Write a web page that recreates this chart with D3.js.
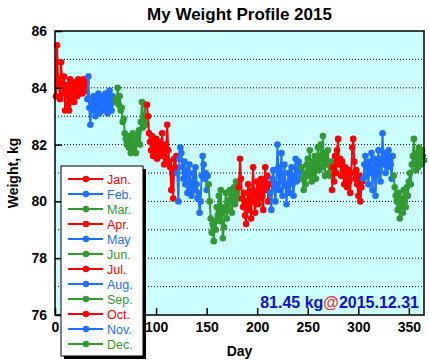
<!DOCTYPE html>
<html>
<head>
<meta charset="utf-8">
<script src="https://cdn.jsdelivr.net/npm/d3@7"></script>
<style>
  body { margin: 0; background: #fff; }
  svg { display: block; font-family: "Liberation Sans", Arial, sans-serif; }
</style>
</head>
<body>
<svg id="chart"></svg>
<script>
// Daily weights (kg), one array per month
const jan = [83.7, 85.5, 84.3, 84.1, 83.6, 84.9, 84.2, 83.8, 84.4, 83.2, 83.9, 84.1, 83.4, 83.2, 84.3, 83.6,
  83.9, 84.2, 83.5, 84.0, 84.1, 83.7, 84.3, 83.9, 84.2, 84.0, 83.8, 84.3, 84.1, 83.9, 84.2];
const feb = [83.6, 84.4, 83.3, 82.7, 83.5, 83.2, 83.7, 83.4, 83.0, 83.6, 83.3, 83.8, 83.1, 83.5, 83.7, 83.2,
  83.6, 83.4, 83.8, 83.3, 83.1, 83.6, 83.9, 83.4, 83.2, 83.7, 83.5, 83.6];
const mar = [83.6, 83.5, 84.0, 83.4, 83.7, 83.2, 83.3, 82.8, 82.9, 82.4, 82.2, 82.0, 82.3, 81.9, 82.1, 81.7,
  82.2, 82.4, 81.8, 82.0, 81.7, 82.3, 82.1, 82.5, 82.0, 82.8, 83.5, 82.6, 82.9, 83.4, 82.7];
const apr = [83.4, 83.0, 82.4, 82.1, 81.8, 82.3, 81.6, 82.0, 81.7, 82.2, 81.5, 81.9, 82.1, 81.6, 81.8, 82.4,
  81.7, 81.3, 82.0, 81.5, 82.7, 81.8, 81.4, 81.2, 80.4, 81.0, 80.1, 81.5, 81.2, 81.6];
const may = [81.0, 80.0, 81.5, 81.9, 81.7, 81.2, 80.8, 81.4, 80.6, 81.1, 80.3, 80.9, 81.3, 80.5, 80.2, 80.7,
  81.0, 80.4, 81.2, 80.6, 80.1, 80.3, 79.6, 80.0, 80.9, 81.6, 81.3, 80.8, 81.0, 80.4, 80.9];
const jun = [80.6, 80.0, 79.4, 78.9, 79.2, 78.6, 79.3, 79.0, 79.8, 79.5, 80.2, 79.3, 80.4, 79.6, 78.7, 79.1,
  79.8, 80.3, 79.4, 80.0, 79.7, 80.4, 80.1, 79.6, 80.2, 80.5, 79.9, 80.7, 80.3, 80.1];
const jul = [80.5, 81.5, 80.8, 80.1, 79.8, 80.3, 79.5, 79.2, 80.0, 80.6, 79.7, 80.2, 79.4, 80.4, 81.2, 80.0,
  79.6, 80.3, 80.7, 79.9, 80.5, 80.1, 80.8, 80.2, 79.7, 80.6, 81.2, 80.4, 80.9, 80.0, 80.6];
const aug = [80.3, 79.7, 80.8, 81.1, 80.5, 80.0, 80.6, 82.0, 81.2, 80.4, 80.9, 81.7, 80.2, 80.7, 81.3, 80.6,
  79.9, 80.5, 81.0, 80.3, 80.8, 81.2, 80.6, 80.2, 80.9, 81.5, 80.7, 81.1, 81.4, 80.8, 81.2];
const sep = [81.2, 80.8, 80.4, 81.0, 80.6, 81.3, 81.5, 80.9, 81.8, 81.2, 80.7, 81.4, 81.0, 81.6, 80.8, 81.3,
  81.9, 81.1, 81.5, 82.0, 81.2, 82.3, 81.4, 80.9, 81.7, 81.3, 81.8, 81.0, 80.9, 81.4];
const oct = [80.4, 81.2, 80.7, 81.6, 81.0, 81.8, 82.2, 81.3, 81.5, 80.9, 81.4, 81.0, 80.6, 81.2, 80.8, 80.5,
  81.1, 80.7, 80.3, 81.0, 81.9, 82.2, 81.4, 80.8, 81.1, 80.6, 80.2, 80.9, 80.0, 80.5, 80.7];
const nov = [80.8, 81.3, 81.6, 80.9, 81.2, 80.6, 81.4, 81.0, 81.7, 80.4, 81.1, 81.5, 80.2, 80.9, 81.3, 81.8,
  81.1, 80.7, 81.5, 82.4, 81.3, 81.7, 81.0, 81.6, 81.2, 81.8, 81.5, 81.3, 80.8, 81.6];
const dec = [80.9, 80.5, 80.2, 80.0, 79.7, 80.3, 79.4, 79.9, 80.1, 79.6, 80.4, 80.0, 79.8, 80.5, 80.2, 80.7,
  81.0, 80.6, 81.3, 81.6, 82.2, 81.4, 81.1, 81.7, 81.2, 81.9, 81.5, 81.3, 81.8, 81.6, 81.45];

const monthNames = ["Jan.", "Feb.", "Mar.", "Apr.", "May", "Jun.", "Jul.", "Aug.", "Sep.", "Oct.", "Nov.", "Dec."];
const monthValues = [jan, feb, mar, apr, may, jun, jul, aug, sep, oct, nov, dec];
const monthColors = ["#ff0000", "#2070ff", "#339933"];

const yTicks = [76, 78, 80, 82, 84, 86];
const yGrid = [77, 78, 79, 80, 81, 82, 83, 84, 85];
const xTicks = [0, 50, 100, 150, 200, 250, 300, 350];

const lastWeight = "81.45 kg";
const lastDate = "2015.12.31";

const width = 429;
const height = 364;
const margin = { top: 31, right: 5, bottom: 49, left: 55 };

const svg = d3.select("#chart").attr("width", width).attr("height", height);

// Scales
const x = d3.scaleLinear().domain([0, 365]).range([margin.left, width - margin.right]);
const y = d3.scaleLinear().domain([76, 86]).range([height - margin.bottom, margin.top]);

// Turn month arrays into day-of-year series
let dayOffset = 0;
const series = monthValues.map((vals, i) => {
  const pts = vals.map((v, j) => ({ day: dayOffset + j + 1, w: v }));
  dayOffset += vals.length;
  return { name: monthNames[i], color: monthColors[i % 3], points: pts };
});

// Plot background
svg.append("rect")
  .attr("x", x(0)).attr("y", y(86))
  .attr("width", x(365) - x(0)).attr("height", y(76) - y(86))
  .attr("fill", "#ccffff");

// Dotted grid lines
svg.append("g").selectAll("line")
  .data(yGrid)
  .join("line")
  .attr("x1", x(0)).attr("x2", x(365))
  .attr("y1", (d) => y(d)).attr("y2", (d) => y(d))
  .attr("stroke", "#000")
  .attr("stroke-width", 1)
  .attr("stroke-dasharray", "1,2");

// Series lines and dots
const line = d3.line().x((d) => x(d.day)).y((d) => y(d.w));
series.forEach((s) => {
  svg.append("path")
    .datum(s.points)
    .attr("d", line)
    .attr("fill", "none")
    .attr("stroke", s.color)
    .attr("stroke-width", 2);
  svg.append("g").selectAll("circle")
    .data(s.points)
    .join("circle")
    .attr("cx", (d) => x(d.day))
    .attr("cy", (d) => y(d.w))
    .attr("r", 3.3)
    .attr("fill", s.color);
});

// Frame
svg.append("rect")
  .attr("x", x(0)).attr("y", y(86))
  .attr("width", x(365) - x(0)).attr("height", y(76) - y(86))
  .attr("fill", "none")
  .attr("stroke", "#000")
  .attr("stroke-width", 1.5);

// Axes with inward ticks
const yAxis = d3.axisLeft(y).tickValues(yTicks).tickSizeInner(-7).tickSizeOuter(0).tickPadding(15);
const xAxis = d3.axisBottom(x).tickValues(xTicks).tickSizeInner(-7).tickSizeOuter(0).tickPadding(15);

const gy = svg.append("g").attr("transform", `translate(${x(0)},0)`).call(yAxis);
const gx = svg.append("g").attr("transform", `translate(0,${y(76)})`).call(xAxis);

[gx, gy].forEach((g) => {
  g.select(".domain").remove();
  g.selectAll(".tick line").attr("stroke", "#000").attr("stroke-width", 1.5);
  g.selectAll(".tick text")
    .attr("fill", "#000")
    .style("font-size", "14px")
    .style("font-weight", "bold")
    .style("font-family", "'Liberation Sans', Arial, sans-serif");
});
gy.selectAll(".tick text").attr("x", -8);
gx.selectAll(".tick text").attr("y", 7);

// Title and axis labels
svg.append("text")
  .attr("x", (x(0) + x(365)) / 2).attr("y", 20)
  .attr("text-anchor", "middle")
  .style("font-size", "17px").style("font-weight", "bold")
  .text("My Weight Profile 2015");

svg.append("text")
  .attr("x", (x(0) + x(365)) / 2).attr("y", 356)
  .attr("text-anchor", "middle")
  .style("font-size", "14px").style("font-weight", "bold")
  .text("Day");

svg.append("text")
  .attr("transform", `translate(18,${(y(76) + y(86)) / 2}) rotate(-90)`)
  .attr("text-anchor", "middle")
  .style("font-size", "14px").style("font-weight", "bold")
  .text("Weight, kg");

// Latest reading
const note = svg.append("text")
  .attr("x", x(365) - 5).attr("y", 308)
  .attr("text-anchor", "end")
  .style("font-size", "16px").style("font-weight", "bold");
note.append("tspan").attr("fill", "#1010cc").text(lastWeight);
note.append("tspan").attr("fill", "#ff3030").text("@");
note.append("tspan").attr("fill", "#1010cc").text(lastDate);

// Legend
const lx = 61, ly = 166, lw = 82, lh = 190;
svg.append("rect")
  .attr("x", lx + 3).attr("y", ly + 3)
  .attr("width", lw).attr("height", lh)
  .attr("fill", "#000");
svg.append("rect")
  .attr("x", lx).attr("y", ly)
  .attr("width", lw).attr("height", lh)
  .attr("fill", "#fff")
  .attr("stroke", "#000")
  .attr("stroke-width", 1);

const rows = svg.append("g").selectAll("g")
  .data(series)
  .join("g")
  .attr("transform", (d, i) => `translate(${lx},${ly + 13 + i * 15})`);
rows.append("line")
  .attr("x1", 7).attr("x2", 42)
  .attr("stroke", (d) => d.color)
  .attr("stroke-width", 2);
rows.append("circle")
  .attr("cx", 25).attr("r", 3.2)
  .attr("fill", (d) => d.color);
rows.append("text")
  .attr("x", 46).attr("y", 4.5)
  .attr("fill", (d) => d.color)
  .style("font-size", "12.5px")
  .text((d) => d.name);
</script>
</body>
</html>
